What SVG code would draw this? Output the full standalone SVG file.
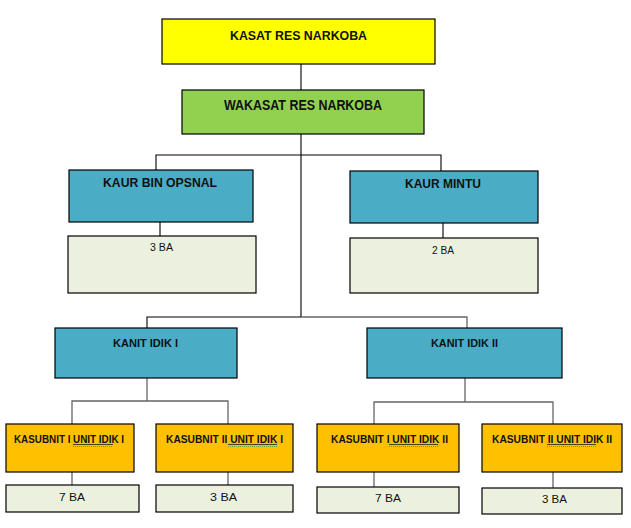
<svg xmlns="http://www.w3.org/2000/svg" width="631" height="528" viewBox="0 0 631 528">
<style>
.box{stroke:#000;stroke-width:1.2}
.kasat{fill:#FFFF00}
.waka{fill:#92D050}
.teal{fill:#4BACC6}
.ba{fill:#EBF1DE}
.sub{fill:#FFC000}
.h{font-family:"Liberation Sans Narrow","Liberation Sans",Arial,sans-serif;font-weight:bold;fill:#111}
.t{font-family:"Liberation Sans Narrow","Liberation Sans",Arial,sans-serif;fill:#111}
.c{fill:none;stroke:#000;stroke-width:1.1}
.g{fill:none;stroke:#666;stroke-width:1.3}
.ul{stroke:#222;stroke-width:0.8}
.wv{stroke:#4a9a3a;stroke-width:0.8;stroke-dasharray:1 1}
</style>
<rect width="631" height="528" fill="#fff"/>
<g id="connectors">
<path class="c" d="M301 64V90M301 134V317M156 170V155H441V171M160 222V236M443 223V238M301 317H147V328"/>
<path class="g" d="M301 317H467V328M147 378V401M72 424V401H228V424M72 472V485M228 472V485M465 378V402M374 424V402H553V424M374 472V487M553 472V488"/>
</g>
<g id="kasat"><rect class="box kasat" x="162" y="19" width="273" height="45"/><text class="h" x="230" y="40" font-size="13" textLength="137" lengthAdjust="spacingAndGlyphs">KASAT RES NARKOBA</text></g>
<g id="wakasat"><rect class="box waka" x="182" y="90" width="242" height="44"/><text class="h" x="224" y="110" font-size="14" textLength="158" lengthAdjust="spacingAndGlyphs">WAKASAT RES NARKOBA</text></g>
<g id="kaur-bin"><rect class="box teal" x="69" y="170" width="184" height="52"/><text class="h" x="103" y="187" font-size="13" textLength="114" lengthAdjust="spacingAndGlyphs">KAUR BIN OPSNAL</text></g>
<g id="ba-bin"><rect class="box ba" x="68" y="236" width="188" height="57"/><text class="t" x="150" y="251" font-size="10" textLength="23" lengthAdjust="spacingAndGlyphs">3 BA</text></g>
<g id="kaur-mintu"><rect class="box teal" x="350" y="171" width="188" height="52"/><text class="h" x="405" y="188" font-size="13" textLength="76" lengthAdjust="spacingAndGlyphs">KAUR MINTU</text></g>
<g id="ba-mintu"><rect class="box ba" x="350" y="238" width="188" height="55"/><text class="t" x="432" y="254" font-size="10" textLength="22" lengthAdjust="spacingAndGlyphs">2 BA</text></g>
<g id="kanit1"><rect class="box teal" x="55" y="328" width="182" height="50"/><text class="h" x="113" y="347" font-size="11" textLength="65" lengthAdjust="spacingAndGlyphs">KANIT IDIK I</text></g>
<g id="kanit2"><rect class="box teal" x="367" y="328" width="195" height="50"/><text class="h" x="431" y="347" font-size="11" textLength="67" lengthAdjust="spacingAndGlyphs">KANIT IDIK II</text></g>
<g id="sub1-1"><rect class="box sub" x="6" y="424" width="128" height="48"/><text class="h" x="14" y="443" font-size="10.5" textLength="110" lengthAdjust="spacingAndGlyphs">KASUBNIT I UNIT  IDIK I</text><line class="ul" x1="73" y1="444.5" x2="113" y2="444.5"/><line class="wv" x1="73" y1="446.5" x2="113" y2="446.5"/></g>
<g id="sub2-1"><rect class="box sub" x="156" y="424" width="137" height="48"/><text class="h" x="166" y="443" font-size="10.5" textLength="117" lengthAdjust="spacingAndGlyphs">KASUBNIT II UNIT  IDIK I</text><line class="ul" x1="228" y1="444.5" x2="277" y2="444.5"/><line class="wv" x1="228" y1="446.5" x2="277" y2="446.5"/></g>
<g id="sub1-2"><rect class="box sub" x="317" y="424" width="142" height="48"/><text class="h" x="331" y="443" font-size="10.5" textLength="117" lengthAdjust="spacingAndGlyphs">KASUBNIT I UNIT  IDIK II</text><line class="ul" x1="389" y1="444.5" x2="438" y2="444.5"/><line class="wv" x1="389" y1="446.5" x2="438" y2="446.5"/></g>
<g id="sub2-2"><rect class="box sub" x="482" y="424" width="140" height="48"/><text class="h" x="492" y="443" font-size="10.5" textLength="120" lengthAdjust="spacingAndGlyphs">KASUBNIT II UNIT  IDIK II</text><line class="ul" x1="547" y1="444.5" x2="596" y2="444.5"/><line class="wv" x1="547" y1="446.5" x2="596" y2="446.5"/></g>
<g id="ba1-1"><rect class="box ba" x="6" y="485" width="133" height="27"/><text class="t" x="59" y="501" font-size="11.5" textLength="26" lengthAdjust="spacingAndGlyphs">7 BA</text></g>
<g id="ba2-1"><rect class="box ba" x="156" y="485" width="137" height="27"/><text class="t" x="210" y="501" font-size="11.5" textLength="27" lengthAdjust="spacingAndGlyphs">3 BA</text></g>
<g id="ba1-2"><rect class="box ba" x="317" y="487" width="142" height="26"/><text class="t" x="375" y="502" font-size="11.5" textLength="26" lengthAdjust="spacingAndGlyphs">7 BA</text></g>
<g id="ba2-2"><rect class="box ba" x="482" y="488" width="140" height="26"/><text class="t" x="542" y="503" font-size="11.5" textLength="25" lengthAdjust="spacingAndGlyphs">3 BA</text></g>
</svg>
